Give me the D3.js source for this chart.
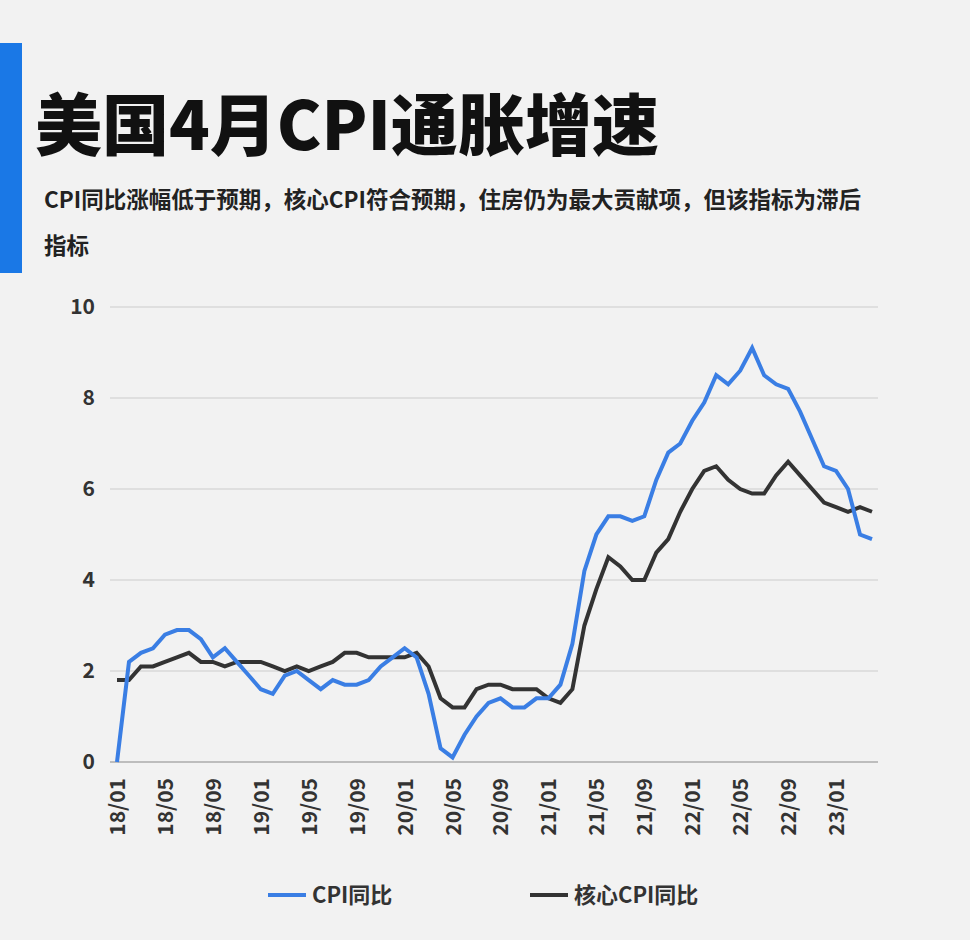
<!DOCTYPE html>
<html><head><meta charset="utf-8">
<script src="https://cdn.jsdelivr.net/npm/d3@7"></script>
<style>body{margin:0;background:#f2f2f2;font-family:"Noto Sans CJK SC","Noto Sans",sans-serif}</style>
</head><body><svg id="c" width="970" height="940"></svg>
<script>
// monthly data 2018/01 - 2023/04
var cpi = [0,2.2,2.4,2.5,2.8,2.9,2.9,2.7,2.3,2.5,2.2,1.9,
  1.6,1.5,1.9,2.0,1.8,1.6,1.8,1.7,1.7,1.8,2.1,2.3,
  2.5,2.3,1.5,0.3,0.1,0.6,1.0,1.3,1.4,1.2,1.2,1.4,
  1.4,1.7,2.6,4.2,5.0,5.4,5.4,5.3,5.4,6.2,6.8,7.0,
  7.5,7.9,8.5,8.3,8.6,9.1,8.5,8.3,8.2,7.7,7.1,6.5,
  6.4,6.0,5.0,4.9]
var core = [1.8,1.8,2.1,2.1,2.2,2.3,2.4,2.2,2.2,2.1,2.2,2.2,
  2.2,2.1,2.0,2.1,2.0,2.1,2.2,2.4,2.4,2.3,2.3,2.3,
  2.3,2.4,2.1,1.4,1.2,1.2,1.6,1.7,1.7,1.6,1.6,1.6,
  1.4,1.3,1.6,3.0,3.8,4.5,4.3,4.0,4.0,4.6,4.9,5.5,
  6.0,6.4,6.5,6.2,6.0,5.9,5.9,6.3,6.6,6.3,6.0,5.7,
  5.6,5.5,5.6,5.5]
var months = d3.range(cpi.length).map(function(i){
  return d3.format("02")(18 + Math.floor(i/12)) + "/" + d3.format("02")(i%12 + 1) })
var xTicks = months.filter(function(d,i){ return i % 4 == 0 })
var yTicks = [0,2,4,6,8,10]

var svg = d3.select("#c")
svg.append("rect").attr("x",0).attr("y",43).attr("width",22).attr("height",230).attr("fill","#1a78e6")
svg.append("text").attr("x",35).attr("y",150).text("美国4月CPI通胀增速")
  .style("font-size","67px").style("font-weight",900).attr("fill","#111")
svg.append("text").attr("x",44).attr("y",208).text("CPI同比涨幅低于预期，核心CPI符合预期，住房仍为最大贡献项，但该指标为滞后")
  .style("font-size","22.5px").style("font-weight",700).attr("fill","#222")
svg.append("text").attr("x",44).attr("y",254).text("指标")
  .style("font-size","22.5px").style("font-weight",700).attr("fill","#222")

var x = d3.scalePoint().domain(months).range([117,872])
var y = d3.scaleLinear().domain([0,10]).range([762,307])

svg.append("g").selectAll("line").data(yTicks).enter().append("line")
  .attr("x1",110).attr("x2",878).attr("y1",function(d){return y(d)}).attr("y2",function(d){return y(d)})
  .attr("stroke",function(d){return d==0?"#888":"#ccc"}).attr("stroke-width",1)
svg.append("g").selectAll("text").data(yTicks).enter().append("text")
  .attr("x",95).attr("y",function(d){return y(d)+7}).attr("text-anchor","end")
  .text(function(d){return d}).style("font-size","21px").style("font-weight",700).attr("fill","#333")
svg.append("g").selectAll("text").data(xTicks).enter().append("text")
  .attr("transform",function(d){return "translate(" + (x(d)+8) + ",778) rotate(-90)"})
  .attr("text-anchor","end").text(function(d){return d})
  .style("font-size","21px").style("font-weight",700).attr("fill","#333")

var line = d3.line().x(function(d,i){return x(months[i])}).y(function(d){return y(d)})
svg.append("path").datum(core).attr("d",line).attr("fill","none").attr("stroke","#333").attr("stroke-width",4)
svg.append("path").datum(cpi).attr("d",line).attr("fill","none").attr("stroke","#3a7ee4").attr("stroke-width",4)

//legend
var leg = [{n:"CPI同比",c:"#3a7ee4",x:268},{n:"核心CPI同比",c:"#333",x:530}]
leg.forEach(function(l){
  svg.append("line").attr("x1",l.x).attr("x2",l.x+38).attr("y1",895).attr("y2",895).attr("stroke",l.c).attr("stroke-width",4)
  svg.append("text").attr("x",l.x+44).attr("y",903).text(l.n).style("font-size","22px").style("font-weight",700).attr("fill","#333")
})
</script></body></html>
